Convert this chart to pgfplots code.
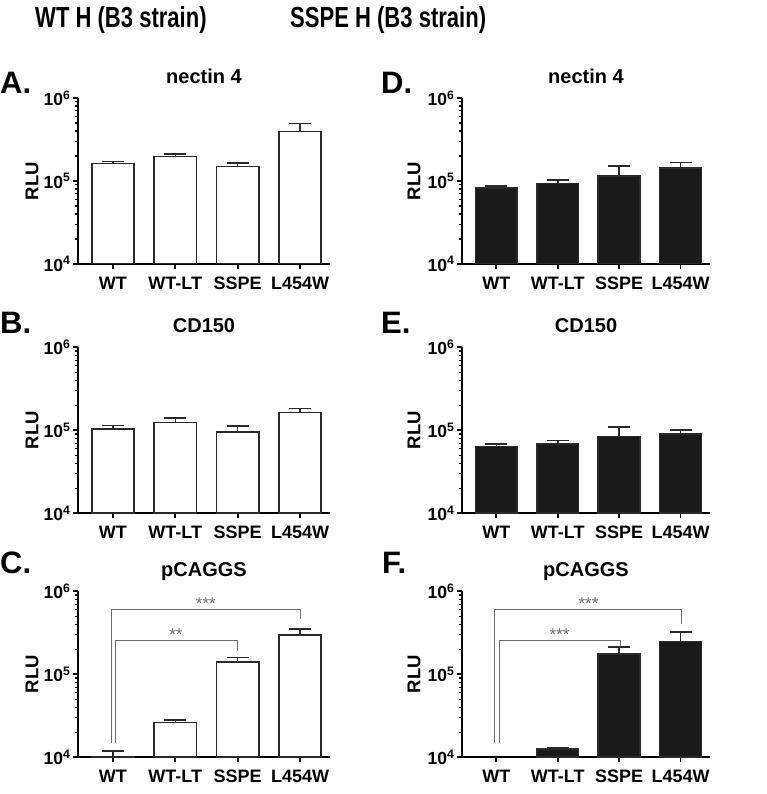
\documentclass[border=0pt]{standalone}
\usepackage{pgfplots}
\pgfplotsset{compat=1.18}
\usepackage{fontspec}
\setmainfont{Liberation Sans}
\newfontfamily\condfont{Liberation Sans}[FakeStretch=0.76]
\definecolor{barline}{HTML}{2A2A2A}
\definecolor{darkfill}{HTML}{1A1A1A}
\definecolor{brk}{HTML}{6E6E6E}

\pgfplotsset{
  every axis/.append style={
    scale only axis, height=166pt,
    y filter/.expression={log10(y)},
    ymin=4, ymax=6,
    xmin=-0.56, xmax=3.48,
    axis x line*=bottom, axis y line*=left,
    axis line style={line width=1.8pt, black},
    xtick={0,1,2,3}, xticklabels={WT,WT-LT,SSPE,L454W},
    ytick={4,5,6},
    yticklabels={10\textsuperscript{4},10\textsuperscript{5},10\textsuperscript{6}},
    minor ytick={4.30103,4.47712,4.60206,4.69897,4.77815,4.84510,4.90309,4.95424,
                 5.30103,5.47712,5.60206,5.69897,5.77815,5.84510,5.90309,5.95424},
    tick align=outside,
    major tick length=5pt, minor tick length=3pt,
    every major tick/.append style={line width=1.8pt, black},
    every minor tick/.append style={line width=1.3pt, black},
    x tick label style={font=\fontsize{18}{20}\selectfont\bfseries, yshift=-4.5pt},
    y tick label style={font=\fontsize{17.5}{20}\selectfont\bfseries, xshift=1pt},
    title style={font=\fontsize{20}{22}\selectfont\bfseries, at={(0.5,1)}, anchor=base, yshift=8.5pt},
    ylabel={RLU},
    ylabel style={font=\fontsize{18.5}{20}\selectfont\bfseries, at={(axis description cs:0,0.5)}, anchor=center, yshift=46pt},
  },
  errbar/.style={barline, line width=1.6pt, mark=-, mark size=11pt, mark indices={2}, mark options={solid, line width=1.6pt}},
  whitebar/.style={ybar, bar width=0.68, fill=white, draw=barline, line width=1.6pt},
  darkbar/.style={ybar, bar width=0.68, fill=darkfill, draw=barline, line width=1.6pt},
  bracket/.style={brk, line width=0.9pt},
}

\begin{document}
\begin{tikzpicture}
\path[use as bounding box] (0pt,0pt) rectangle (766pt,794pt);

% headers
\node[anchor=base west, inner sep=0, font=\condfont\fontsize{29}{32}\selectfont\bfseries] at (35pt,766pt) {WT H (B3 strain)};
\node[anchor=base west, inner sep=0, font=\condfont\fontsize{29}{32}\selectfont\bfseries] at (290pt,766pt) {SSPE H (B3 strain)};

% panel letters
\node[anchor=base west, inner sep=0, font=\fontsize{31}{34}\selectfont\bfseries] at (0pt,700pt) {A.};
\node[anchor=base west, inner sep=0, font=\fontsize{31}{34}\selectfont\bfseries] at (0pt,460pt) {B.};
\node[anchor=base west, inner sep=0, font=\fontsize{31}{34}\selectfont\bfseries] at (0pt,220pt) {C.};
\node[anchor=base west, inner sep=0, font=\fontsize{31}{34}\selectfont\bfseries] at (381pt,700pt) {D.};
\node[anchor=base west, inner sep=0, font=\fontsize{31}{34}\selectfont\bfseries] at (381pt,460pt) {E.};
\node[anchor=base west, inner sep=0, font=\fontsize{31}{34}\selectfont\bfseries] at (382pt,220pt) {F.};

% A
\begin{axis}[width=252pt, at={(78pt,530pt)}, anchor=south west, title={nectin 4}]
\addplot[whitebar] coordinates {(0,1.62e5) (1,1.97e5) (2,1.49e5) (3,3.94e5)};
\addplot[errbar] coordinates {(0,1.62e5) (0,1.71e5)};
\addplot[errbar] coordinates {(1,1.97e5) (1,2.12e5)};
\addplot[errbar] coordinates {(2,1.49e5) (2,1.66e5)};
\addplot[errbar] coordinates {(3,3.94e5) (3,4.92e5)};
\end{axis}

% B
\begin{axis}[width=252pt, at={(78pt,280.7pt)}, anchor=south west, title={CD150}]
\addplot[whitebar] coordinates {(0,1.03e5) (1,1.24e5) (2,9.55e4) (3,1.63e5)};
\addplot[errbar] coordinates {(0,1.03e5) (0,1.14e5)};
\addplot[errbar] coordinates {(1,1.24e5) (1,1.40e5)};
\addplot[errbar] coordinates {(2,9.55e4) (2,1.13e5)};
\addplot[errbar] coordinates {(3,1.63e5) (3,1.84e5)};
\end{axis}

% C
\begin{axis}[width=252pt, at={(78pt,36.7pt)}, anchor=south west, title={pCAGGS}]
\addplot[whitebar] coordinates {(0,1.02e4) (1,2.62e4) (2,1.40e5) (3,2.97e5)};
\addplot[errbar] coordinates {(0,1.02e4) (0,1.19e4)};
\addplot[errbar] coordinates {(1,2.62e4) (1,2.80e4)};
\addplot[errbar] coordinates {(2,1.40e5) (2,1.60e5)};
\addplot[errbar] coordinates {(3,2.97e5) (3,3.54e5)};
\addplot[bracket] coordinates {(-0.03,1.5e4) (-0.03,6.0e5) (3.0,6.0e5) (3.0,4.6e5)};
\addplot[bracket] coordinates {(0.04,1.5e4) (0.04,2.54e5) (2.0,2.54e5) (2.0,1.92e5)};
\node[anchor=base, brk, font=\fontsize{17}{17}\selectfont, inner sep=0] at (axis cs:1.49,5.778) {***};
\node[anchor=base, brk, font=\fontsize{17}{17}\selectfont, inner sep=0] at (axis cs:1.01,5.405) {**};
\end{axis}

% D
\begin{axis}[width=248pt, at={(462pt,530pt)}, anchor=south west, title={nectin 4}, ylabel style={yshift=2pt}]
\addplot[darkbar] coordinates {(0,8.3e4) (1,9.37e4) (2,1.14e5) (3,1.44e5)};
\addplot[errbar] coordinates {(0,8.3e4) (0,8.77e4)};
\addplot[errbar] coordinates {(1,9.37e4) (1,1.03e5)};
\addplot[errbar] coordinates {(2,1.14e5) (2,1.52e5)};
\addplot[errbar] coordinates {(3,1.44e5) (3,1.67e5)};
\end{axis}

% E
\begin{axis}[width=248pt, at={(462pt,280.7pt)}, anchor=south west, title={CD150}, ylabel style={yshift=2pt}]
\addplot[darkbar] coordinates {(0,6.38e4) (1,6.87e4) (2,8.4e4) (3,8.98e4)};
\addplot[errbar] coordinates {(0,6.38e4) (0,6.87e4)};
\addplot[errbar] coordinates {(1,6.87e4) (1,7.5e4)};
\addplot[errbar] coordinates {(2,8.4e4) (2,1.10e5)};
\addplot[errbar] coordinates {(3,8.98e4) (3,1.01e5)};
\end{axis}

% F
\begin{axis}[width=248pt, at={(462pt,36.7pt)}, anchor=south west, title={pCAGGS}, ylabel style={yshift=2pt}]
\addplot[darkbar] coordinates {(1,1.26e4) (2,1.77e5) (3,2.49e5)};
\addplot[errbar] coordinates {(1,1.26e4) (1,1.31e4)};
\addplot[errbar] coordinates {(2,1.77e5) (2,2.13e5)};
\addplot[errbar] coordinates {(3,2.49e5) (3,3.26e5)};
\addplot[bracket] coordinates {(-0.03,1.5e4) (-0.03,6.0e5) (3.02,6.0e5) (3.02,4.07e5)};
\addplot[bracket] coordinates {(0.05,1.5e4) (0.05,2.54e5) (2.02,2.54e5) (2.02,2.13e5)};
\node[anchor=base, brk, font=\fontsize{17}{17}\selectfont, inner sep=0] at (axis cs:1.5,5.778) {***};
\node[anchor=base, brk, font=\fontsize{17}{17}\selectfont, inner sep=0] at (axis cs:1.03,5.405) {***};
\end{axis}
\end{tikzpicture}
\end{document}
